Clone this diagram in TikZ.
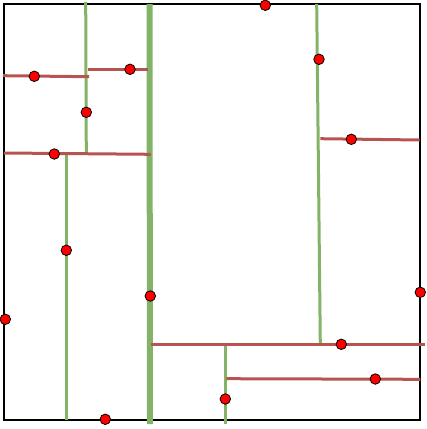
\documentclass[tikz,border=0pt]{standalone}
\definecolor{splitg}{HTML}{82B366}
\definecolor{splitr}{HTML}{B85450}
\tikzset{
  pt/.style={circle,draw=black,fill=red,line width=0.8pt,minimum size=10.5pt,inner sep=0pt},
  gline/.style={draw=splitg,line width=3pt},
  gthick/.style={draw=splitg,line width=6pt},
  rline/.style={draw=splitr,line width=3pt},
  frame/.style={draw=black,line width=1.2pt}
}
\begin{document}
\begin{tikzpicture}[x=1pt,y=-1pt]
\useasboundingbox (0,0) rectangle (427,429);
\draw[frame] (4,4) rectangle (420,420);
% split lines
\coordinate (g0a) at (149.5,4);   \coordinate (g0b) at (150,424);
\coordinate (g1a) at (85.7,2);    \coordinate (g1b) at (86.3,154);
\coordinate (g2a) at (66.3,154);  \coordinate (g2b) at (66.3,420);
\coordinate (g3a) at (316.7,4);   \coordinate (g3b) at (320.3,344);
\coordinate (g4a) at (225.3,344); \coordinate (g4b) at (225.3,424);
\coordinate (r1a) at (3,75.7);    \coordinate (r1b) at (89,76.7);
\coordinate (r2a) at (88,69.3);   \coordinate (r2b) at (148,69.3);
\coordinate (r3a) at (4,153);     \coordinate (r3b) at (150.7,154.3);
\coordinate (r4a) at (320.3,138.7); \coordinate (r4b) at (419.7,140);
\coordinate (r5a) at (150.7,344.3); \coordinate (r5b) at (424.7,344.3);
\coordinate (r6a) at (226.3,378.7); \coordinate (r6b) at (420.3,379.3);
\draw[gthick] (g0a) -- (g0b);
\draw[gline] (g1a) -- (g1b);
\draw[gline] (g2a) -- (g2b);
\draw[gline] (g3a) -- (g3b);
\draw[gline] (g4a) -- (g4b);
\draw[rline] (r1a) -- (r1b);
\draw[rline] (r2a) -- (r2b);
\draw[rline] (r3a) -- (r3b);
\draw[rline] (r4a) -- (r4b);
\draw[rline] (r5a) -- (r5b);
\draw[rline] (r6a) -- (r6b);
% points
\node[pt] (p1) at (34.3,76.3) {};
\node[pt] (p2) at (130,69.3) {};
\node[pt] (p3) at (86.3,112.3) {};
\node[pt] (p4) at (54.3,154) {};
\node[pt] (p5) at (66.3,250.3) {};
\node[pt] (p6) at (150.3,296) {};
\node[pt] (p7) at (5.3,319.3) {};
\node[pt] (p8) at (105.3,419.3) {};
\node[pt] (p9) at (265.3,5.3) {};
\node[pt] (p10) at (319,59.3) {};
\node[pt] (p11) at (351.3,139.3) {};
\node[pt] (p12) at (420.3,292.3) {};
\node[pt] (p13) at (341.3,344.3) {};
\node[pt] (p14) at (375.3,379) {};
\node[pt] (p15) at (225.3,399) {};
\end{tikzpicture}
\end{document}
